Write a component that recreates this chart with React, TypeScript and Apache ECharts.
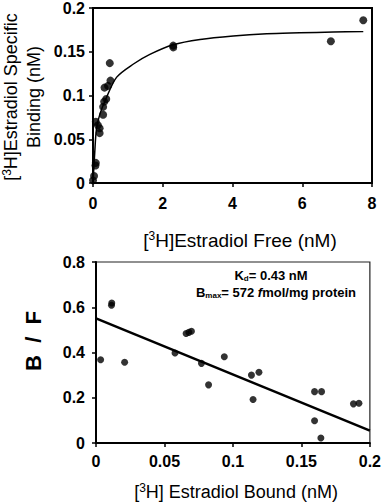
import React, { useEffect, useRef } from "react";
import * as echarts from "echarts";

// Saturation data: [free (nM), specific binding (nM)]
const satPoints: number[][] = [
  [0, 0.003], [0.03, 0.008], [0.07, 0.02], [0.08, 0.023], [0.08, 0.07],
  [0.14, 0.066], [0.19, 0.0625], [0.19, 0.057], [0.29, 0.078], [0.29, 0.087],
  [0.32, 0.093], [0.38, 0.096], [0.33, 0.109], [0.43, 0.111], [0.5, 0.117],
  [0.48, 0.137], [2.3, 0.157], [2.3, 0.155], [6.82, 0.162], [7.75, 0.186],
];
// Fitted saturation curve
const satCurve: number[][] = [
  [0, 0], [0.05, 0.035], [0.1, 0.062], [0.2, 0.079], [0.39, 0.098],
  [0.68, 0.121], [1.16, 0.136], [1.63, 0.147], [2.3, 0.158], [3.07, 0.164],
  [4.02, 0.168], [4.98, 0.1705], [5.93, 0.1716], [6.89, 0.1726], [7.75, 0.173],
];
// Scatchard data: [bound (nM), B/F]
const scatPoints: number[][] = [
  [0.0034, 0.368], [0.0113, 0.609], [0.0115, 0.619], [0.0209, 0.357],
  [0.0577, 0.398], [0.0658, 0.484], [0.0678, 0.489], [0.0697, 0.494],
  [0.077, 0.352], [0.0822, 0.257], [0.0937, 0.381], [0.1135, 0.3],
  [0.119, 0.313], [0.1147, 0.192], [0.1596, 0.227], [0.1647, 0.227],
  [0.1596, 0.098], [0.1642, 0.022], [0.188, 0.173], [0.192, 0.176],
];
const scatLine: number[][] = [[0, 0.551], [0.2, 0.055]];

const topXTicks = [0, 8, 2];
const topYTicks = [0, 0.2, 0.05];
const botXTicks = [0, 0.2, 0.05];
const botYTicks = [0, 0.8, 0.2];

const FONT = "Liberation Sans, Arial, sans-serif";

const titleRich = (size: number) => ({
  a: { font: `${size}px ${FONT}`, fill: "#000", color: "#000" },
  u: { font: `${Math.round(size * 0.65)}px ${FONT}`, fill: "#000", color: "#000", padding: [0, 0, 8, 0] },
});

export default function App() {
  const ref = useRef<HTMLDivElement>(null);
  useEffect(() => {
    if (!ref.current) return;
    const chart = echarts.init(ref.current, undefined, { renderer: "svg" });
    const axisCommon = {
      axisLine: { show: true, onZero: false, lineStyle: { color: "#000", width: 2 } },
      axisTick: { show: true, length: 4, inside: false, lineStyle: { color: "#000", width: 1.5 } },
      splitLine: { show: false },
    };
    const labelStyle = { color: "#000", fontFamily: FONT, fontWeight: "bold" as const, fontSize: 16 };
    chart.setOption({
      animation: false,
      backgroundColor: "#fff",
      grid: [
        { left: 93, top: 7, width: 279, height: 176, show: true, borderColor: "#000", borderWidth: 2 },
        { left: 96, top: 262, width: 277, height: 181, show: true, borderColor: "#222", borderWidth: 1.2 },
      ],
      xAxis: [
        {
          gridIndex: 0, type: "value", min: topXTicks[0], max: topXTicks[1], interval: topXTicks[2],
          ...axisCommon,
          axisLabel: { ...labelStyle, margin: 12 },
        },
        {
          gridIndex: 1, type: "value", min: botXTicks[0], max: botXTicks[1], interval: botXTicks[2],
          ...axisCommon,
          axisLabel: { ...labelStyle, margin: 10 },
        },
      ],
      yAxis: [
        {
          gridIndex: 0, type: "value", min: topYTicks[0], max: topYTicks[1], interval: topYTicks[2],
          ...axisCommon,
          axisLabel: { ...labelStyle, margin: 8 },
        },
        {
          gridIndex: 1, type: "value", min: botYTicks[0], max: botYTicks[1], interval: botYTicks[2],
          ...axisCommon,
          axisLabel: { ...labelStyle, margin: 11 },
        },
      ],
      series: [
        {
          type: "line", xAxisIndex: 0, yAxisIndex: 0, data: satCurve, smooth: 0.3,
          showSymbol: false, lineStyle: { color: "#000", width: 1.5 }, z: 2,
        },
        {
          type: "scatter", xAxisIndex: 0, yAxisIndex: 0, data: satPoints,
          symbol: "circle", symbolSize: 8, itemStyle: { color: "#000" }, z: 3,
        },
        {
          type: "line", xAxisIndex: 1, yAxisIndex: 1, data: scatLine,
          showSymbol: false, lineStyle: { color: "#000", width: 2.5 }, z: 2,
        },
        {
          type: "scatter", xAxisIndex: 1, yAxisIndex: 1, data: scatPoints,
          symbol: "circle", symbolSize: 7, itemStyle: { color: "#000" }, z: 3,
        },
      ],
      graphic: [
        {
          type: "text", x: 11, y: 97, rotation: Math.PI / 2,
          style: { text: "{a|[}{u|3}{a|H]Estradiol Specific}", align: "center", verticalAlign: "middle", rich: titleRich(18) },
        },
        {
          type: "text", x: 34, y: 97, rotation: Math.PI / 2,
          style: { text: "{a|Binding (nM)}", align: "center", verticalAlign: "middle", rich: titleRich(18) },
        },
        {
          type: "text", x: 240, y: 240,
          style: { text: "{a|[}{u|3}{a|H]Estradiol Free (nM)}", align: "center", verticalAlign: "middle", rich: titleRich(19) },
        },
        {
          type: "text", x: 33, y: 341, rotation: Math.PI / 2,
          style: { text: "B  /  F", font: `bold 22px ${FONT}`, fill: "#000", align: "center", verticalAlign: "middle" },
        },
        {
          type: "text", x: 236, y: 492,
          style: { text: "{a|[}{u|3}{a|H] Estradiol Bound (nM)}", align: "center", verticalAlign: "middle", rich: titleRich(18) },
        },
        {
          type: "text", x: 271, y: 275,
          style: {
            text: "{a|K}{s|d}{a|= 0.43 nM}",
            align: "center", verticalAlign: "middle",
            rich: {
              a: { font: `bold 13px ${FONT}`, fill: "#000", color: "#000" },
              s: { font: `bold 8px ${FONT}`, fill: "#000", color: "#000", padding: [6, 0, 0, 0] },
            },
          },
        },
        {
          type: "text", x: 276, y: 292,
          style: {
            text: "{a|B}{s|max}{a|= 572 }{i|f}{a|mol/mg protein}",
            align: "center", verticalAlign: "middle",
            rich: {
              a: { font: `bold 13px ${FONT}`, fill: "#000", color: "#000" },
              i: { font: `italic bold 13px ${FONT}`, fill: "#000", color: "#000" },
              s: { font: `bold 8px ${FONT}`, fill: "#000", color: "#000", padding: [6, 0, 0, 0] },
            },
          },
        },
      ],
    });
    return () => chart.dispose();
  }, []);
  return <div ref={ref} style={{ position: "fixed", left: 0, top: 0, width: 384, height: 504 }} />;
}
